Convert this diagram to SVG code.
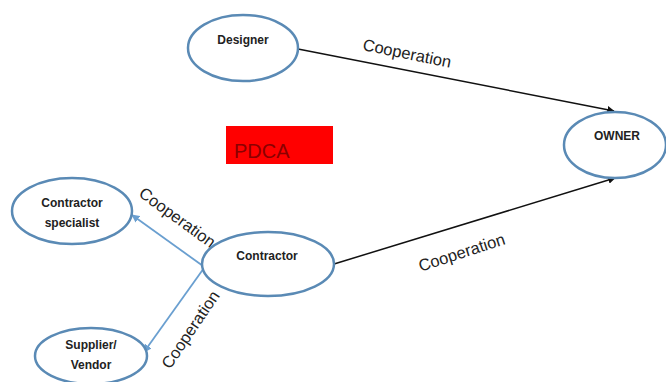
<svg xmlns="http://www.w3.org/2000/svg" width="666" height="382" viewBox="0 0 666 382">
<style>
.node ellipse{fill:#fff;stroke:#5a8ab5;stroke-width:2.5}
.node text{font-family:"Liberation Sans",Arial,sans-serif;font-weight:bold;font-size:12px;fill:#222;text-anchor:middle}
.lbl{font-family:"Liberation Sans",Arial,sans-serif;font-size:16.5px;fill:#222;text-anchor:middle}
.blk{stroke:#111;stroke-width:1.5;fill:none}
.blu{stroke:#6a9fd0;stroke-width:1.8;fill:none}
</style>
<defs>
<marker id="ab" viewBox="0 0 10 10" refX="9" refY="5" markerWidth="5" markerHeight="5" orient="auto"><path d="M0,0L10,5L0,10z" fill="#111"/></marker>
<marker id="au" viewBox="0 0 10 10" refX="9" refY="5" markerWidth="4.5" markerHeight="4.5" orient="auto"><path d="M0,0L10,5L0,10z" fill="#6a9fd0"/></marker>
</defs>
<rect width="666" height="382" fill="#fff"/>
<g id="connectors">
<line class="blk" x1="298" y1="49" x2="614" y2="111" marker-end="url(#ab)"/>
<line class="blk" x1="334" y1="264" x2="615" y2="178" marker-end="url(#ab)"/>
<line class="blu" x1="203" y1="266" x2="132" y2="215" marker-end="url(#au)"/>
<line class="blu" x1="204" y1="268" x2="144" y2="352" marker-end="url(#au)"/>
<text class="lbl" transform="translate(407,54) rotate(11.5)" y="5">Cooperation</text>
<text class="lbl" transform="translate(462,253) rotate(-18)" y="5">Cooperation</text>
<text class="lbl" transform="translate(177,218) rotate(36)" y="5">Cooperation</text>
<text class="lbl" transform="translate(191,330) rotate(-56)" y="5">Cooperation</text>
</g>
<g id="designer" class="node"><ellipse cx="243" cy="48" rx="55" ry="33"/><text x="243" y="44">Designer</text></g>
<g id="owner" class="node"><ellipse cx="615" cy="145" rx="51" ry="33"/><text x="617" y="140">OWNER</text></g>
<g id="contractor" class="node"><ellipse cx="268" cy="264" rx="66" ry="32"/><text x="267" y="260">Contractor</text></g>
<g id="specialist" class="node"><ellipse cx="72" cy="211" rx="60" ry="33"/><text x="72" y="207">Contractor</text><text x="72" y="227">specialist</text></g>
<g id="supplier" class="node"><ellipse cx="91" cy="356" rx="56" ry="28"/><text x="91" y="349">Supplier/</text><text x="91" y="369">Vendor</text></g>
<g id="pdca"><rect x="226" y="126" width="107" height="38" fill="#f00"/><text x="234" y="158" font-family="Liberation Sans,Arial,sans-serif" font-size="20" fill="#8b0000">PDCA</text></g>
</svg>
